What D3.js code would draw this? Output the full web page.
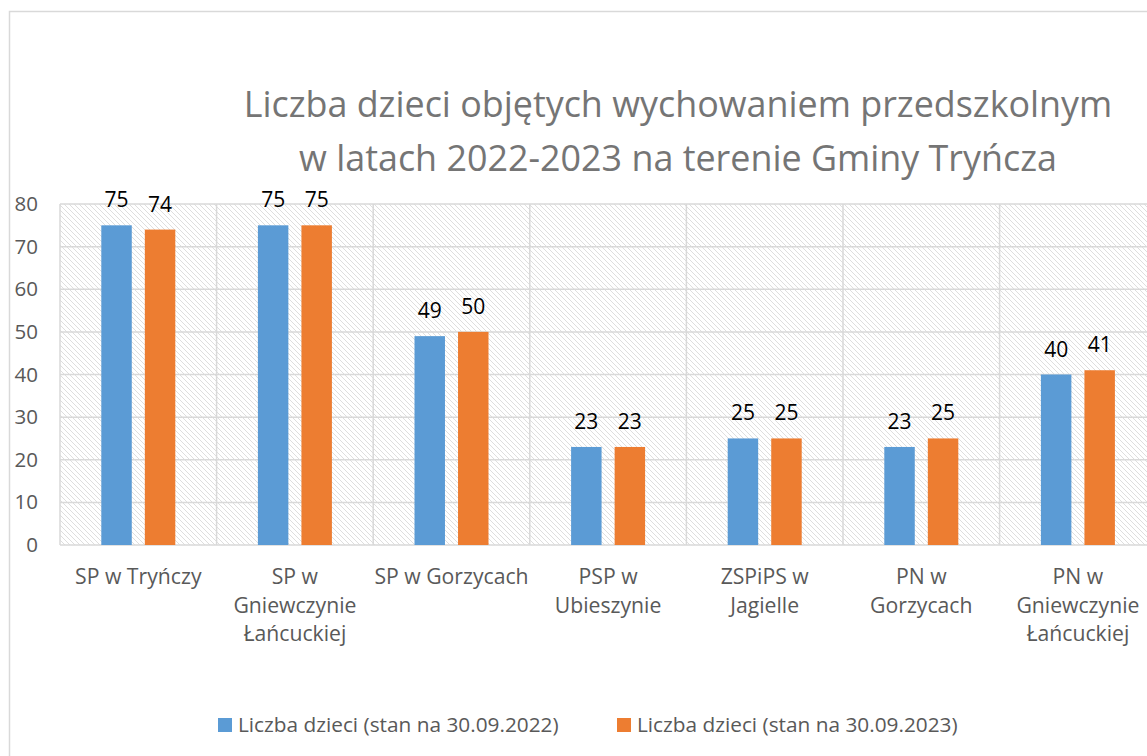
<!DOCTYPE html>
<html>
<head>
<meta charset="utf-8">
<script src="https://cdn.jsdelivr.net/npm/d3@7"></script>
<style>
  body { margin: 0; background: #fff; overflow: hidden; }
  text { font-family: "Open Sans", sans-serif; }
</style>
</head>
<body>
<div id="chart"></div>
<script>
'use strict';

const width = 1147;
const height = 756;

// data
const categories = [
    ['SP w Tryńczy'],
    ['SP w', 'Gniewczynie', 'Łańcuckiej'],
    ['SP w Gorzycach'],
    ['PSP w', 'Ubieszynie'],
    ['ZSPiPS w', 'Jagielle'],
    ['PN w', 'Gorzycach'],
    ['PN w', 'Gniewczynie', 'Łańcuckiej']
];
const seriesNames = ['Liczba dzieci (stan na 30.09.2022)', 'Liczba dzieci (stan na 30.09.2023)'];
const values2022 = [75, 75, 49, 23, 25, 23, 40];
const values2023 = [74, 75, 50, 23, 25, 25, 41];
const yTicks = [0, 10, 20, 30, 40, 50, 60, 70, 80];
const titleLines = ['Liczba dzieci objętych wychowaniem przedszkolnym', 'w latach 2022-2023 na terenie Gminy Tryńcza'];

const colors = ['#5b9bd5', '#ed7d31'];
const plot = {left: 60, top: 204, bottom: 545, step: 156.6};

const svg = d3.select('#chart').append('svg')
    .attr('width', width)
    .attr('height', height);

// hatch pattern for plot background
const defs = svg.append('defs');
const pat = defs.append('pattern')
    .attr('id', 'hatch')
    .attr('patternUnits', 'userSpaceOnUse')
    .attr('width', 5)
    .attr('height', 5);
pat.append('path')
    .attr('d', 'M-1,-1 L6,6 M-1,4 L1,6 M4,-1 L6,1')
    .attr('stroke', '#dedede')
    .attr('stroke-width', 1);

// chart frame (runs off the right and bottom edge)
svg.append('rect')
    .attr('x', 9.5).attr('y', 11.5)
    .attr('width', width + 20).attr('height', height + 20)
    .attr('fill', 'none')
    .attr('stroke', '#d9d9d9')
    .attr('stroke-width', 1.5);

const rows = categories.map((c, i) => ({i, vals: [values2022[i], values2023[i]]}));

const x0 = d3.scaleBand()
    .domain(d3.range(categories.length))
    .range([plot.left, plot.left + plot.step * categories.length])
    .padding(0);

const x1 = d3.scaleBand()
    .domain([0, 1])
    .range([-37, 37])
    .paddingInner(0.3)
    .paddingOuter(0);

const y = d3.scaleLinear()
    .domain([0, 80])
    .range([plot.bottom, plot.top]);

svg.append('rect')
    .attr('x', x0.range()[0])
    .attr('y', plot.top)
    .attr('width', x0.range()[1] - x0.range()[0])
    .attr('height', plot.bottom - plot.top)
    .attr('fill', 'url(#hatch)');

// gridlines
const grid = svg.append('g').attr('stroke', '#d9d9d9').attr('stroke-width', 1.5);
grid.selectAll('.h').data(yTicks).join('line')
    .attr('x1', x0.range()[0]).attr('x2', x0.range()[1])
    .attr('y1', d => y(d)).attr('y2', d => y(d));
grid.selectAll('.v').data(d3.range(categories.length + 1)).join('line')
    .attr('x1', d => plot.left + d * x0.step()).attr('x2', d => plot.left + d * x0.step())
    .attr('y1', plot.top).attr('y2', plot.bottom);

// y axis labels
svg.append('g').selectAll('text').data(yTicks).join('text')
    .attr('x', 38)
    .attr('y', d => y(d) + 7)
    .attr('text-anchor', 'end')
    .attr('font-size', 20.5)
    .attr('fill', '#595959')
    .text(d => d);

// bars
const groups = svg.append('g').selectAll('g').data(rows).join('g')
    .attr('transform', d => `translate(${x0(d.i) + x0.bandwidth() / 2},0)`);

groups.selectAll('rect').data(d => d.vals).join('rect')
    .attr('x', (d, j) => x1(j))
    .attr('width', x1.bandwidth())
    .attr('y', d => y(d))
    .attr('height', d => y(0) - y(d))
    .attr('fill', (d, j) => colors[j]);

groups.selectAll('text').data(d => d.vals).join('text')
    .attr('x', (d, j) => x1(j) + x1.bandwidth() / 2)
    .attr('y', d => y(d) - 18)
    .attr('text-anchor', 'middle')
    .attr('font-size', 21)
    .attr('fill', '#000')
    .text(d => d);

// category labels
svg.append('g').selectAll('text').data(categories).join('text')
    .attr('x', (d, i) => x0(i) + x0.bandwidth() / 2)
    .attr('y', 584)
    .attr('text-anchor', 'middle')
    .attr('font-size', 21.2)
    .attr('fill', '#595959')
    .selectAll('tspan').data(d => d).join('tspan')
    .attr('x', function () { return this.parentNode.getAttribute('x'); })
    .attr('dy', (d, k) => k === 0 ? 0 : 28.5)
    .text(d => d);

// title
const title = svg.append('g').selectAll('text').data(titleLines).join('text')
    .attr('x', 678)
    .attr('y', (d, i) => 117 + i * 54)
    .attr('text-anchor', 'middle')
    .attr('font-size', 36)
    .attr('fill', '#757575')
    .text(d => d);
// fit the first line to the width seen in the picture
const w0 = title.node().getComputedTextLength();
title.attr('font-size', 36 * 869 / w0);

// legend
const legend = svg.append('g').selectAll('g').data(seriesNames).join('g')
    .attr('transform', (d, i) => `translate(${[218, 617][i]},718)`);
legend.append('rect')
    .attr('width', 14).attr('height', 14)
    .attr('fill', (d, i) => colors[i]);
legend.append('text')
    .attr('x', 20).attr('y', 14)
    .attr('font-size', 20.8)
    .attr('fill', '#595959')
    .text(d => d);
</script>
</body>
</html>
